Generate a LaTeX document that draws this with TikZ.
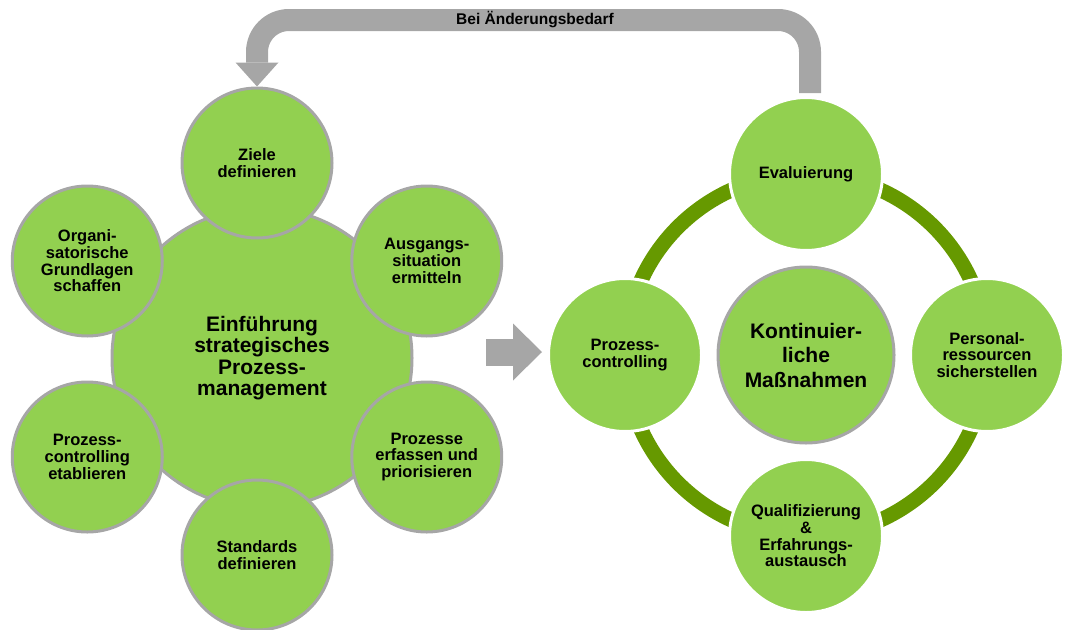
\documentclass[tikz,border=0pt]{standalone}
\usepackage{fontspec}
\setmainfont{Liberation Sans}
\usetikzlibrary{arrows.meta,calc,positioning}

\definecolor{hgruen}{HTML}{92D050}
\definecolor{dgruen}{HTML}{669900}
\definecolor{grau}{HTML}{A6A6A6}

\begin{document}
\begin{tikzpicture}[x=1pt, y=1pt,
       sat/.style = {circle, draw=#1, line width=3pt, fill=hgruen,
                     minimum size=150pt, inner sep=0pt, align=center,
                     font=\fontsize{16.5}{16.7}\selectfont\bfseries},
       sat/.default = grau,
      kern/.style = {circle, draw=grau, line width=3pt, fill=hgruen,
                     inner sep=0pt, align=center},
      ring/.style = {draw=dgruen, line width=15pt},
     bogen/.style = {draw=grau, line width=22pt, rounded corners=32pt,
                     -{Triangle[width=43pt, length=24pt, line width=0pt]}},
     pfeil/.style = {draw=grau, line width=27pt,
                     -{Triangle[width=57pt, length=29pt, line width=0pt]}},
                            ]
\useasboundingbox (0,0) rectangle (1065,-629);
    %% left: Einfuehrung
    \coordinate (M) at (257,-359);
    \node[kern, minimum size=300pt,
          font=\fontsize{21}{21.5}\selectfont\bfseries] (E) at (262,-358)
        {Einführung\\strategisches\\Prozess-\\management};
    \node[sat] (S1) at ($(M)+(90:196)$)  {Ziele\\definieren};
    \node[sat] (S2) at ($(M)+(30:196)$)  {Ausgangs-\\situation\\ermitteln};
    \node[sat] (S3) at ($(M)+(-30:196)$) {Prozesse\\erfassen und\\priorisieren};
    \node[sat] (S4) at ($(M)+(-90:196)$) {Standards\\definieren};
    \node[sat] (S5) at ($(M)+(210:196)$) {Prozess-\\controlling\\etablieren};
    \node[sat] (S6) at ($(M)+(150:196)$) {Organi-\\satorische\\Grundlagen\\schaffen};
    %
    \coordinate (pa) at (486,-352);
    \coordinate (pb) at (542,-352);
    \draw[pfeil] (pa) -- (pb);
    %% right: Kontinuierliche Massnahmen
    \coordinate (N) at (806,-355);
    \draw[ring] (N) circle (181);
    \node[sat=white, minimum size=153pt] (R1) at ($(N)+(90:181)$)  {Evaluierung};
    \node[sat=white, minimum size=153pt] (R2) at ($(N)+(0:181)$)   {Personal-\\ressourcen\\sicherstellen};
    \node[sat=white, minimum size=153pt] (R3) at ($(N)+(-90:181)$) {Qualifizierung\\\&\\Erfahrungs-\\austausch};
    \node[sat=white, minimum size=153pt] (R4) at ($(N)+(180:181)$) {Prozess-\\controlling};
    \node[kern, minimum size=176pt,
          font=\fontsize{21}{24.5}\selectfont\bfseries] (K) at (N)
        {Kontinuier-\\liche\\Maßnahmen};
    %% feedback arrow
    \coordinate (rs) at (810,-93);
    \coordinate (T)  at (535,-20);
    \draw[bogen] (rs) |- (T) -| (S1.north);
    \node[font=\fontsize{15.5}{16}\selectfont\bfseries] at (T) {Bei Änderungsbedarf};
        \end{tikzpicture}
\end{document}
